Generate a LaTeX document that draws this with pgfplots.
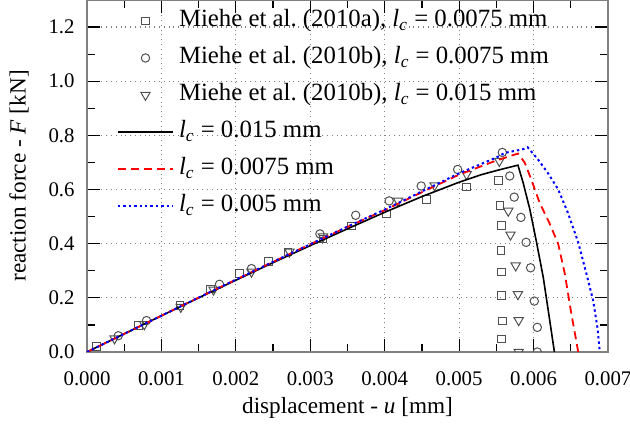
\documentclass[border=0pt]{standalone}
\usepackage{fontspec}
\setmainfont{Liberation Serif}
\usepackage{pgfplots}
\pgfplotsset{compat=1.18}
\definecolor{mk}{HTML}{505050}
\begin{document}
\begin{tikzpicture}[font=\fontsize{10.4}{12.5}\selectfont]
\begin{axis}[
  scale only axis, width=260.5pt, height=176pt,
  xmin=0, xmax=0.007, ymin=0, ymax=1.3,
  xtick={0,0.001,0.002,0.003,0.004,0.005,0.006,0.007},
  ytick={0,0.2,0.4,0.6,0.8,1.0,1.2},
  minor x tick num=1, minor y tick num=1,
  scaled x ticks=false, scaled y ticks=false,
  xticklabel style={/pgf/number format/fixed,/pgf/number format/fixed zerofill,/pgf/number format/precision=3,/pgf/number format/assume math mode=true, yshift=-6.5pt},
  yticklabel style={/pgf/number format/fixed,/pgf/number format/fixed zerofill,/pgf/number format/precision=1,/pgf/number format/assume math mode=true, xshift=-2.7pt},
  tick align=inside,
  major tick length=6.3pt, minor tick length=3.8pt,
  tick style={black, line width=0.6pt},
  axis line style={draw=gray, line width=0.75pt},
  xmajorgrids, ymajorgrids,
  grid style={dotted, gray, line width=0.6pt},
  clip marker paths=true,
  xlabel={displacement - \textit{u} [mm]},
  ylabel={reaction force - \textit{F} [kN]},
  every axis x label/.style={at={(axis description cs:0.5,0)}, yshift=-28pt, anchor=center, font=\fontsize{11.6}{14}\selectfont},
  every axis y label/.style={at={(axis description cs:0,0.5)}, xshift=-34pt, rotate=90, anchor=center, font=\fontsize{11.6}{14}\selectfont},
  legend image code/.code={\draw[mark repeat=2,mark phase=2,#1] plot coordinates {(0pt,0pt)(13.75pt,0pt)(27.5pt,0pt)};},
  legend cell align=left,
  legend style={draw=none, fill=none, inner sep=0pt, outer sep=0pt,
    at={(axis description cs:0,1)}, anchor=north west, xshift=15pt, yshift=-4.5pt,
    column sep=2.5pt, row sep=6.5pt, font=\fontsize{12.4}{15}\selectfont,
    nodes={inner sep=0pt, text height=9pt, text depth=3pt}},
]
\addplot[only marks, mark=square, mark size=1.9pt, mk, mark options={line width=0.5pt}] coordinates {
(0.00013,0.02) (0.00069,0.097) (0.00125,0.172) (0.00166,0.232) (0.00205,0.289) (0.00244,0.334) (0.00270,0.370) (0.00317,0.417) (0.00355,0.466) (0.00402,0.509) (0.00456,0.564) (0.0051,0.610) (0.00553,0.634) (0.00555,0.541) (0.00557,0.468) (0.00556,0.374) (0.00557,0.295) (0.00557,0.208) (0.00558,0.114) (0.00557,0.048)};
\addlegendentry{Miehe et al.\ (2010a), \textit{l}\textsubscript{\textit{c}} = 0.0075 mm}
\addplot[only marks, mark=o, mark size=2.1pt, mk, mark options={line width=0.5pt}] coordinates {
(0.00042,0.060) (0.0008,0.116) (0.00178,0.250) (0.00221,0.308) (0.00313,0.436) (0.00361,0.505) (0.00406,0.558) (0.00449,0.613) (0.00498,0.674) (0.00558,0.737) (0.00568,0.65) (0.00574,0.572) (0.00583,0.497) (0.0059,0.405) (0.00596,0.311) (0.00601,0.188) (0.00605,0.091) (0.00605,0.0)};
\addlegendentry{Miehe et al.\ (2010b), \textit{l}\textsubscript{\textit{c}} = 0.0075 mm}
\addplot[only marks, mark=triangle, mark size=2.7pt, mk, mark options={line width=0.5pt, rotate=180}] coordinates {
(0.00037,0.05) (0.00077,0.102) (0.00126,0.166) (0.0017,0.230) (0.00221,0.296) (0.00272,0.370) (0.00317,0.426) (0.00418,0.558) (0.00467,0.615) (0.0051,0.656) (0.00554,0.705) (0.00566,0.521) (0.00569,0.433) (0.00576,0.319) (0.00579,0.213) (0.0058,0.117) (0.0058,0.0)};
\addlegendentry{Miehe et al.\ (2010b), \textit{l}\textsubscript{\textit{c}} = 0.015 mm}
\addplot[black, line width=0.8pt, mark=none] coordinates {
(0,0) (0.0005,0.067) (0.001,0.134) (0.0015,0.200) (0.002,0.265) (0.0025,0.330) (0.003,0.393) (0.0035,0.455) (0.004,0.516) (0.0045,0.574) (0.005,0.627) (0.0053,0.655) (0.0055,0.670) (0.00579,0.690) (0.00586,0.625) (0.00595,0.527) (0.00604,0.405) (0.00613,0.276) (0.00621,0.13) (0.00628,0)};
\addlegendentry{\textit{l}\textsubscript{\textit{c}} = 0.015 mm}
\addplot[red, line width=0.9pt, dash pattern=on 4pt off 2.5pt, mark=none] coordinates {
(0,0) (0.0005,0.067) (0.001,0.134) (0.0015,0.201) (0.002,0.267) (0.0025,0.333) (0.003,0.398) (0.0035,0.462) (0.004,0.524) (0.0045,0.590) (0.005,0.655) (0.00548,0.705) (0.00579,0.733) (0.00588,0.70) (0.00597,0.637) (0.00608,0.552) (0.00621,0.478) (0.00633,0.400) (0.00642,0.289) (0.0065,0.154) (0.0066,0)};
\addlegendentry{\textit{l}\textsubscript{\textit{c}} = 0.0075 mm}
\addplot[blue, line width=1pt, dash pattern=on 1.2pt off 1.5pt, mark=none] coordinates {
(0,0) (0.0005,0.067) (0.001,0.134) (0.0015,0.201) (0.002,0.267) (0.0025,0.333) (0.003,0.398) (0.0035,0.463) (0.004,0.526) (0.0045,0.593) (0.005,0.660) (0.0055,0.718) (0.00561,0.735) (0.00586,0.749) (0.00592,0.756) (0.00606,0.711) (0.00619,0.662) (0.00633,0.601) (0.00646,0.515) (0.0066,0.405) (0.00671,0.289) (0.0068,0.191) (0.00686,0.087) (0.00689,0.0)};
\addlegendentry{\textit{l}\textsubscript{\textit{c}} = 0.005 mm}
\path (rel axis cs:0,0) coordinate (SW) (rel axis cs:1,1) coordinate (NE);
\end{axis}
\pgfresetboundingbox
\path ([shift={(-43.5pt,-36.5pt)}]SW) rectangle ([shift={(11pt,0pt)}]NE);
\end{tikzpicture}
\end{document}
